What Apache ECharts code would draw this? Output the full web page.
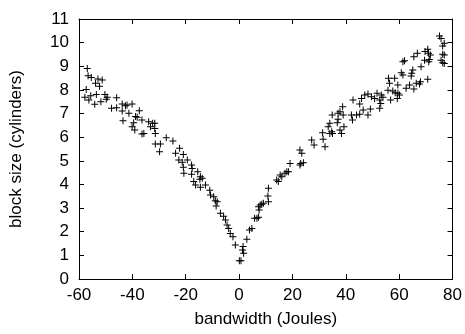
<!DOCTYPE html>
<html>
<head>
<meta charset="utf-8">
<script src="https://cdn.jsdelivr.net/npm/echarts@6/dist/echarts.min.js"></script>
<style>
html,body{margin:0;padding:0;background:#fff;}
#chart{width:465px;height:334px;}
</style>
</head>
<body>
<div id="chart"></div>
<script>
// data: [bandwidth, block size]
var pointsNegative = [
[-56.9,8.91],[-56.6,8.6],[-55.4,8.53],[-52.9,8.46],[-51.3,8.42],[-53.8,8.28],[-52.3,8.16],[-57.3,8.02],
[-57.8,7.69],[-55.6,7.75],[-53.5,7.81],[-56.3,7.57],[-54.1,7.39],[-51.8,7.5],[-50.3,7.81],[-49.8,7.61],
[-49.4,7.69],[-45.9,7.67],[-47.8,7.22],[-45.9,7.25],[-43.8,7.4],[-42.6,7.33],[-42,7.36],[-40.1,7.4],
[-43.8,7.11],[-41.3,7.01],[-37.4,7.12],[-43.5,6.7],[-39.5,6.61],[-36.4,6.73],[-38.2,6.84],[-38.8,6.87],
[-40.1,6.44],[-39.1,6.3],[-36.4,6.13],[-35.7,6.16],[-33.9,6.65],[-32.4,6.59],[-31.6,6.59],[-33.2,6.44],
[-31.6,6.37],[-31.4,6.16],[-31.4,5.71],[-29.5,5.71],[-27.3,5.98],[-29.8,5.38],[-24.8,5.84],[-22.3,5.53],
[-23.8,5.32],[-20.9,5.27],[-22.6,5.03],[-21.3,4.94],[-19.4,5.03],[-20.9,4.73],[-20.7,4.47],[-17.8,4.82],
[-17.6,4.68],[-17.8,4.43],[-15.5,4.54],[-14.5,4.33],[-14.7,4.22],[-13.8,4.26],[-17,4.12],[-16.3,3.98],
[-14.5,3.88],[-12.6,3.98],[-11,3.76],[-10.7,3.55],[-9.5,3.48],[-8.9,3.31],[-8.2,3.27],[-8.6,3.09],
[-7,2.78],[-5.8,2.66],[-5.1,2.5],[-4.5,2.28],[-3.9,2.14],[-3.3,1.93],[-2.3,1.79],[-1.4,1.44],
[0.1,0.77],[0.7,0.77]
];
var pointsPositive = [
[1.3,1.23],[1.7,1.09],[1.5,1.37],[2.9,1.68],[3.9,2.07],[4.8,2.14],[5.8,2.57],[6.7,2.57],[7.3,2.61],
[7.3,3.06],[7.5,2.92],[7.9,3.13],[8.5,3.16],[9.1,3.2],[11,3.27],[10.8,3.51],[11,3.84],[14.1,4.19],
[14.7,4.12],[15.4,4.4],[16,4.33],[17.2,4.47],[17.9,4.54],[18.5,4.54],[19.1,4.89],[22.8,5.46],[23.5,5.32],
[23.1,4.89],[24.1,4.92],[22.8,4.82],[28.1,5.67],[27.2,5.88],[31.5,5.91],[32.2,5.6],[31.3,6.19],
[33.4,6.44],[34,6.59],[34.7,6.23],[34,6.16],[35,6.16],[37.8,6.3],[38.4,6.16],[39.3,6.44],[34.9,6.94],
[37.1,7.01],[37.8,7.08],[38.8,7.29],[39,6.94],[37.1,6.76],[36.8,6.61],[42.1,6.94],[42.5,6.73],[44,6.94],
[45.2,6.97],[46.5,7.15],[48.3,6.94],[49.2,7.19],[42.7,7.57],[45.2,7.4],[45.9,7.64],[47.1,7.78],[48.3,7.83],
[49.6,7.71],[50.8,7.64],[51.7,7.86],[52.7,7.22],[53.3,7.78],[52.7,7.57],[53.1,7.43],[53.9,7.69],
[55.8,7.99],[57.6,7.95],[58.5,7.88],[59.5,7.86],[56.8,7.57],[59.3,7.64],[60.1,7.78],[56,8.49],[56.4,8.28],
[58.3,8.49],[59.5,8.21],[60.8,8.73],[61.4,8.63],[62.6,8.07],[63.9,8.21],[65.5,8.04],[66.4,8.28],[67.6,8.25],
[68,8.35],[70.7,8.45],[61.4,9.19],[62,9.23],[64.7,8.7],[65.1,8.84],[64.5,8.59],[65.5,9.4],[66.8,9.55],
[68.2,8.98],[69.5,9.26],[69.7,9.62],[70.7,9.72],[71,9.55],[71.7,9.48],[71.3,9.29],[71.1,9.19],
[75.1,10.28],[75.7,10.18],[76.9,9.97],[76.3,9.86],[76.3,9.51],[76.9,9.48],[75.7,9.26],[76.3,9.15],[76.9,9.12]
];
var xAxisName = 'bandwidth (Joules)';
var yAxisName = 'block size (cylinders)';
var xRange = [-60, 80], xStep = 20;
var yRange = [0, 11], yStep = 1;

var chart = echarts.init(document.getElementById('chart'), null, {renderer: 'canvas'});
var plus = 'path://M0,6H14V8H0ZM6,0H8V14H6Z';
var font = 'Liberation Sans';
var axisLine = {show: true, onZero: false, lineStyle: {color: '#000', width: 1}};
var tickIn = {show: true, inside: true, length: 5, lineStyle: {color: '#000', width: 1}};
function mkSeries(d) {
  return {type: 'scatter', data: d, symbol: plus, symbolSize: 7,
    itemStyle: {color: '#000', opacity: 1}, animation: false, silent: true};
}
chart.setOption({
  animation: false,
  grid: {left: 78, right: 12, top: 19, bottom: 55, containLabel: false},
  xAxis: [
    {type: 'value', min: xRange[0], max: xRange[1], interval: xStep, position: 'bottom',
     axisLine: axisLine, axisTick: tickIn, splitLine: {show: false},
     axisLabel: {color: '#000', fontFamily: font, fontSize: 17, margin: 8},
     name: xAxisName, nameLocation: 'middle', nameGap: 32,
     nameTextStyle: {color: '#000', fontFamily: font, fontSize: 17}},
    {type: 'value', min: xRange[0], max: xRange[1], interval: xStep, position: 'top',
     axisLine: axisLine, axisTick: tickIn, axisLabel: {show: false}, splitLine: {show: false}}
  ],
  yAxis: [
    {type: 'value', min: yRange[0], max: yRange[1], interval: yStep, position: 'left',
     axisLine: axisLine, axisTick: tickIn, splitLine: {show: false},
     axisLabel: {color: '#000', fontFamily: font, fontSize: 17, margin: 10},
     name: yAxisName, nameLocation: 'middle', nameGap: 54,
     nameTextStyle: {color: '#000', fontFamily: font, fontSize: 17}},
    {type: 'value', min: yRange[0], max: yRange[1], interval: yStep, position: 'right',
     axisLine: axisLine, axisTick: tickIn, axisLabel: {show: false}, splitLine: {show: false}}
  ],
  series: [mkSeries(pointsNegative), mkSeries(pointsPositive)]
});
</script>
</body>
</html>
